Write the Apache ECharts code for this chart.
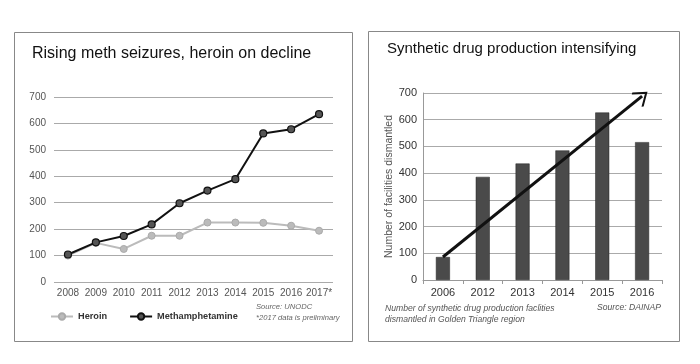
<!DOCTYPE html>
<html><head><meta charset="utf-8">
<script src="https://cdn.jsdelivr.net/npm/echarts@6/dist/echarts.min.js"></script>
<style>html,body{margin:0;padding:0;background:#fff}#c{width:700px;height:364px}</style>
</head><body><div id="c"></div>
<script>
const seizureYears = ['2008','2009','2010','2011','2012','2013','2014','2015','2016','2017*'];
const heroin = [100, 148, 125, 175, 175, 225, 225, 224, 213, 194];
const meth = [104, 150, 174, 218, 298, 346, 389, 562, 578, 635];
const facilityYears = ['2006','2012','2013','2014','2015','2016'];
const facilities = [86, 386, 436, 485, 627, 516];
const trendStart = 86;
const trendEnd = 688;

const chart = echarts.init(document.getElementById('c'), null, {renderer:'canvas'});
const FONT = 'Liberation Sans';
const chevron = 'path://M0,0 L10,10 L8.6,11.4 L0,2.8 L-8.6,11.4 L-10,10 Z';
chart.setOption({
  animation:false,
  backgroundColor:'#fff',
  textStyle:{fontFamily:FONT},
  grid:[
    {left:54, right:367, top:97, bottom:82},
    {left:423, right:38, top:93, bottom:84}
  ],
  xAxis:[
    {gridIndex:0, type:'category', data:seizureYears, boundaryGap:true,
     axisLine:{show:false}, axisTick:{show:false},
     axisLabel:{color:'#555', fontSize:10, margin:6, interval:0, fontFamily:FONT}},
    {gridIndex:1, type:'category', data:facilityYears, boundaryGap:true,
     axisLine:{show:true, lineStyle:{color:'#999'}}, axisTick:{show:true, length:4, lineStyle:{color:'#999'}},
     axisLabel:{color:'#333', fontSize:11, margin:7, interval:0, fontFamily:FONT}}
  ],
  yAxis:[
    {gridIndex:0, type:'value', min:0, max:700, interval:100,
     axisLine:{show:false}, axisTick:{show:false},
     splitLine:{lineStyle:{color:'#aaa', width:1}},
     axisLabel:{color:'#555', fontSize:10, margin:8, fontFamily:FONT}},
    {gridIndex:1, type:'value', min:0, max:700, interval:100,
     axisLine:{show:true, lineStyle:{color:'#999'}}, axisTick:{show:false},
     splitLine:{lineStyle:{color:'#aaa', width:1}},
     axisLabel:{color:'#333', fontSize:11, margin:6, fontFamily:FONT},
     name:'Number of facilities dismantled', nameLocation:'middle', nameRotate:90, nameGap:26,
     nameTextStyle:{color:'#555', fontSize:10.5, fontFamily:FONT}}
  ],
  legend:{
    left:45, top:307, itemWidth:22, itemHeight:8, itemGap:22,
    data:['Heroin','Methamphetamine'],
    textStyle:{fontFamily:FONT, fontSize:9.2, fontWeight:'bold', color:'#333'}
  },
  series:[
    {name:'Heroin', type:'line', xAxisIndex:0, yAxisIndex:0, data:heroin,
     symbol:'circle', symbolSize:7,
     lineStyle:{color:'#bbb', width:2}, itemStyle:{color:'#bbb', borderColor:'#aaa', borderWidth:1}, z:3},
    {name:'Methamphetamine', type:'line', xAxisIndex:0, yAxisIndex:0, data:meth,
     symbol:'circle', symbolSize:7,
     lineStyle:{color:'#111', width:2}, itemStyle:{color:'#555', borderColor:'#111', borderWidth:1.2}, z:4},
    {name:'Facilities', type:'bar', xAxisIndex:1, yAxisIndex:1, data:facilities,
     barWidth:14, itemStyle:{color:'#4a4a4a', borderColor:'#222', borderWidth:0.5},
     markLine:{
       silent:true, symbol:['none', chevron], symbolSize:[18,14],
       lineStyle:{color:'#111', width:3, type:'solid'},
       label:{show:false},
       data:[[{coord:['2006', trendStart]}, {coord:['2016', trendEnd]}]]
     }}
  ],
  graphic:[
    {type:'rect', shape:{x:14.5, y:32.5, width:338, height:309}, style:{fill:'none', stroke:'#888', lineWidth:1}, z:-1},
    {type:'rect', shape:{x:368.5, y:31.5, width:311, height:310}, style:{fill:'none', stroke:'#888', lineWidth:1}, z:-1},
    {type:'text', left:32, top:46, style:{text:'Rising meth seizures, heroin on decline', font:'16px "Liberation Sans"', fill:'#111'}},
    {type:'text', left:387, top:41, style:{text:'Synthetic drug production intensifying', font:'15px "Liberation Sans"', fill:'#111'}},
    {type:'text', left:256, top:301, style:{text:'Source: UNODC\n*2017 data is preliminary', font:'italic 7.6px "Liberation Sans"', fill:'#666', lineHeight:11}},
    {type:'text', left:385, top:303, style:{text:'Number of synthetic drug production faclities\ndismantled in Golden Triangle region', font:'italic 8.6px "Liberation Sans"', fill:'#555', lineHeight:11}},
    {type:'text', right:39, top:303, style:{text:'Source: DAINAP', font:'italic 8.6px "Liberation Sans"', fill:'#555', align:'right'}}
  ]
});
</script></body></html>
